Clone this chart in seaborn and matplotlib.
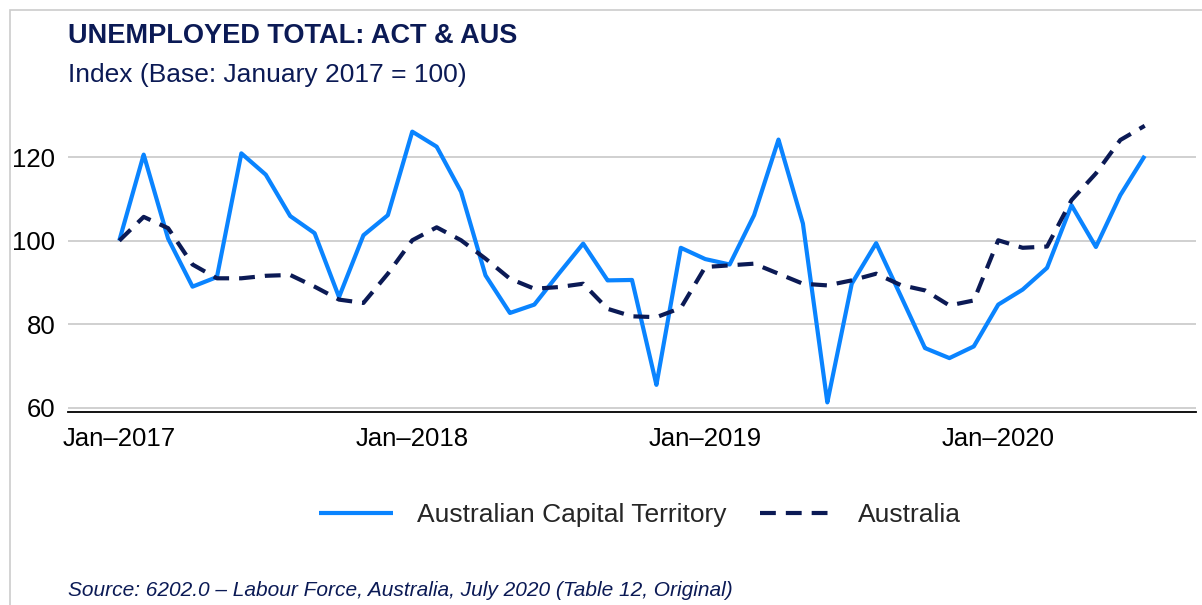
import pandas as pd
import matplotlib.pyplot as plt
from matplotlib.patches import Rectangle
import seaborn as sns

# monthly index, Jan 2017 = 100 (Jan 2017 .. Jul 2020)
months = pd.date_range('2017-01-01', '2020-07-01', freq='MS')
act = [100.0, 120.6, 100.5, 89.0, 91.3, 120.9, 115.8, 105.9, 101.8, 86.5, 101.3, 106.1,
       126.1, 122.5, 111.7, 91.7, 82.7, 84.7, 92.1, 99.3, 90.5, 90.6, 65.5, 98.3,
       95.6, 94.3, 106.1, 124.2, 104.1, 61.3, 89.7, 99.4, 86.9, 74.3, 71.9, 74.7,
       84.7, 88.3, 93.5, 108.5, 98.5, 110.9, 120.3]
aus = [100.0, 105.7, 103.0, 94.3, 91.0, 91.0, 91.6, 91.8, 89.0, 85.9, 85.1, 92.1,
       100.1, 103.2, 100.1, 95.7, 90.9, 88.5, 88.9, 89.7, 83.7, 81.9, 81.7, 83.9,
       93.7, 94.1, 94.5, 92.1, 89.7, 89.3, 90.5, 92.1, 89.4, 88.1, 84.5, 85.7,
       100.1, 98.3, 98.6, 109.7, 116.1, 124.1, 127.5]
series_names = ['Australian Capital Territory', 'Australia']
tick_labels = ['Jan\u20132017', 'Jan\u20132018', 'Jan\u20132019', 'Jan\u20132020']

navy = '#0b1a55'
blue = '#0a84ff'

df = pd.DataFrame({
    'month': list(range(len(months))) * 2,
    'value': act + aus,
    'series': [series_names[0]] * len(act) + [series_names[1]] * len(aus),
})

sns.set_style('white')
plt.rcParams['font.family'] = ['Liberation Sans', 'DejaVu Sans']

fig = plt.figure(figsize=(12.02, 6.05), dpi=100)
ax = fig.add_axes([68 / 1202, 1 - 412 / 605, (1196 - 68) / 1202, (412 - 112) / 605])

sns.lineplot(data=df, x='month', y='value', hue='series', style='series',
             palette=[blue, navy], dashes=[(1, 0), (3.8, 2.4)], linewidth=3.0, ax=ax)

ax.set_xlim(-2.1, 44.1)
ax.set_ylim(59.0, 130.8)
ax.set_yticks([60, 80, 100, 120])
ax.set_xticks([0, 12, 24, 36])
ax.set_xticklabels(tick_labels)
ax.set_xlabel('')
ax.set_ylabel('')
ax.grid(axis='y', color='#c8c8c8', linewidth=1.2)
ax.set_axisbelow(True)
for s in ['top', 'right', 'left']:
    ax.spines[s].set_visible(False)
ax.spines['bottom'].set_color('black')
ax.spines['bottom'].set_linewidth(1.3)
ax.tick_params(axis='y', length=0, pad=9, labelsize=18.5, labelcolor='black')
ax.tick_params(axis='x', length=5, width=0.8, color='#444444', direction='out',
               pad=6, labelsize=18.5, labelcolor='black')

leg = ax.legend(loc='center', bbox_to_anchor=(640 / 1202, 1 - 515 / 605),
                bbox_transform=fig.transFigure, ncol=2, frameon=False,
                fontsize=19, handlelength=2.8, columnspacing=1.3, handletextpad=0.9)

# light grey frame around the chart card
fig.patches.append(Rectangle((10 / 1202, -0.1), 1.2, 1 - 10 / 605 + 0.1,
                             transform=fig.transFigure, fill=False,
                             edgecolor='#cccccc', linewidth=1.2))

fig.text(68 / 1202, 1 - 36 / 605, 'UNEMPLOYED TOTAL: ACT & AUS', fontsize=19.5,
         fontweight='bold', color=navy, va='center')
fig.text(68 / 1202, 1 - 75 / 605, 'Index (Base: January 2017 = 100)', fontsize=19,
         color=navy, va='center')
fig.text(68 / 1202, 1 - 590 / 605,
         'Source: 6202.0 \u2013 Labour Force, Australia, July 2020 (Table 12, Original)',
         fontsize=15, style='italic', color=navy, va='center')

fig.savefig('out.png', dpi=100)
